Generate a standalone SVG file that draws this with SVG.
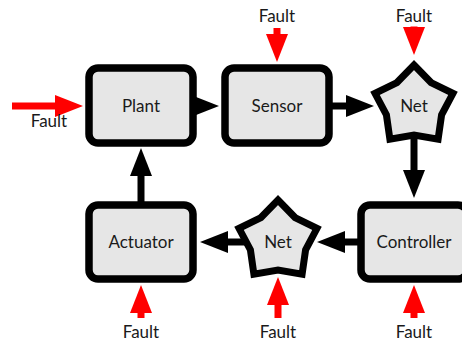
<svg xmlns="http://www.w3.org/2000/svg" width="462" height="343" viewBox="0 0 462 343">
<style>
.box{fill:#e6e6e6;stroke:#000;stroke-width:7.5}
.star{fill:#e6e6e6;stroke:#000;stroke-width:7;stroke-linejoin:miter;stroke-miterlimit:10}
.lbl{font-family:Lato,"Liberation Sans",sans-serif;font-size:17px;fill:#1a1a1a;text-anchor:middle}
.blk{stroke:#000;stroke-width:7;fill:none}
.red{stroke:#ff0000;stroke-width:7;fill:none}
</style>
<defs>
<marker id="hb" markerUnits="userSpaceOnUse" viewBox="0 0 28 22" markerWidth="28" markerHeight="22" refX="0" refY="11" orient="auto"><path d="M0,0 L28,11 L0,22 Z" fill="#000"/></marker>
<marker id="hr" markerUnits="userSpaceOnUse" viewBox="0 0 28 22" markerWidth="28" markerHeight="22" refX="0" refY="11" orient="auto"><path d="M0,0 L28,11 L0,22 Z" fill="#ff0000"/></marker>
<path id="starShape" d="M0,-41 L17.05,-23.46 L38.99,-12.67 L27.58,8.96 L24.1,33.17 L0,29 L-24.1,33.17 L-27.58,8.96 L-38.99,-12.67 L-17.05,-23.46 Z"/>
</defs>
<g id="connectors">
<line class="blk" x1="185" y1="106" x2="191" y2="106" marker-end="url(#hb)"/>
<line class="blk" x1="330" y1="106" x2="346" y2="106" marker-end="url(#hb)"/>
<line class="blk" x1="414" y1="135" x2="414" y2="170" marker-end="url(#hb)"/>
<line class="blk" x1="362" y1="242" x2="345" y2="242" marker-end="url(#hb)"/>
<line class="blk" x1="245" y1="242" x2="228" y2="242" marker-end="url(#hb)"/>
<line class="blk" x1="141" y1="206" x2="141" y2="176" marker-end="url(#hb)"/>
</g>
<g id="faults">
<line class="red" x1="12" y1="106" x2="55" y2="106" marker-end="url(#hr)"/>
<text class="lbl" x="49" y="127">Fault</text>
<line class="red" x1="277" y1="28" x2="277" y2="34" marker-end="url(#hr)"/>
<text class="lbl" x="277" y="22">Fault</text>
<line class="red" x1="414" y1="26.5" x2="414" y2="27" marker-end="url(#hr)"/>
<text class="lbl" x="414" y="22">Fault</text>
<line class="red" x1="141" y1="318" x2="141" y2="313" marker-end="url(#hr)"/>
<text class="lbl" x="141" y="338">Fault</text>
<line class="red" x1="278" y1="318" x2="278" y2="305" marker-end="url(#hr)"/>
<text class="lbl" x="278" y="338">Fault</text>
<line class="red" x1="414" y1="318" x2="414" y2="313" marker-end="url(#hr)"/>
<text class="lbl" x="414" y="338">Fault</text>
</g>
<g id="plant">
<rect class="box" x="89" y="68" width="104" height="75" rx="9"/>
<text class="lbl" x="141" y="112">Plant</text>
</g>
<g id="sensor">
<rect class="box" x="225" y="68" width="104" height="75" rx="9"/>
<text class="lbl" x="277" y="112">Sensor</text>
</g>
<g id="net1">
<use href="#starShape" class="star" transform="translate(414,106)"/>
<text class="lbl" x="414" y="112">Net</text>
</g>
<g id="controller">
<rect class="box" x="361" y="205" width="106" height="74" rx="9"/>
<text class="lbl" x="414" y="248">Controller</text>
</g>
<g id="net2">
<use href="#starShape" class="star" transform="translate(278,241)"/>
<text class="lbl" x="278" y="248">Net</text>
</g>
<g id="actuator">
<rect class="box" x="89" y="205" width="104" height="74" rx="9"/>
<text class="lbl" x="141" y="248">Actuator</text>
</g>
</svg>
